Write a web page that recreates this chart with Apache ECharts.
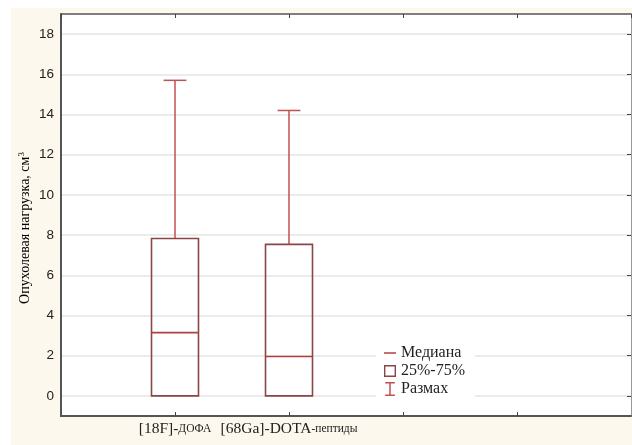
<!DOCTYPE html>
<html>
<head>
<meta charset="utf-8">
<script src="https://cdn.jsdelivr.net/npm/echarts@6/dist/echarts.min.js"></script>
<style>
html,body{margin:0;padding:0;background:#fff;}
#chart{width:632px;height:445px;}
</style>
</head>
<body>
<div id="chart"></div>
<script>
// ---- data ----
var categories = ['[18F]-ДОФА', '[68Ga]-DOTA-пептиды'];
var categoryPos = [1, 2];
var minValues = [0, 0];
var q1Values = [0, 0];
var medianValues = [3.15, 1.96];
var q3Values = [7.83, 7.54];
var maxValues = [15.7, 14.2];
var yTicks = [0, 2, 4, 6, 8, 10, 12, 14, 16, 18];
var legendNames = ['Медиана', '25%-75%', 'Размах'];
var yTitle = 'Опухолевая нагрузка, см';

var boxColor = '#8a4646';
var whiskerColor = '#c24f4f';
var medianColor = '#b43e3e';

var data = categories.map(function (c, i) {
  return [categoryPos[i], minValues[i], q1Values[i], medianValues[i], q3Values[i], maxValues[i]];
});

var richLabel = {
  a: {fontFamily: 'Liberation Serif', fontSize: 15.5, color: '#222'},
  b: {fontFamily: 'Liberation Serif', fontSize: 11.5, color: '#222'}
};
function xLabel(v) {
  var i = categoryPos.indexOf(v);
  if (i < 0) return '';
  if (i === 0) return '{a|[18F]-}{b|ДОФА}';
  return '{a|[68Ga]-DOTA}{b|-пептиды}';
}

function renderItem(params, api) {
  var x = api.value(0);
  var vMin = api.value(1), vQ1 = api.value(2), vMed = api.value(3), vQ3 = api.value(4), vMax = api.value(5);
  var unit = api.size([1, 0])[0];
  var hw = unit * 0.206;
  var cw = unit * 0.1;
  var pMin = api.coord([x, vMin]);
  var pQ1 = api.coord([x, vQ1]);
  var pMed = api.coord([x, vMed]);
  var pQ3 = api.coord([x, vQ3]);
  var pMax = api.coord([x, vMax]);
  var cx = pMed[0];
  var children = [];
  children.push({type: 'line', shape: {x1: cx, y1: pQ3[1], x2: cx, y2: pMax[1]}, style: {stroke: whiskerColor, lineWidth: 1.5}});
  children.push({type: 'line', shape: {x1: cx - cw, y1: pMax[1], x2: cx + cw, y2: pMax[1]}, style: {stroke: whiskerColor, lineWidth: 1.5}});
  if (vMin < vQ1) {
    children.push({type: 'line', shape: {x1: cx, y1: pQ1[1], x2: cx, y2: pMin[1]}, style: {stroke: whiskerColor, lineWidth: 1.5}});
    children.push({type: 'line', shape: {x1: cx - cw, y1: pMin[1], x2: cx + cw, y2: pMin[1]}, style: {stroke: whiskerColor, lineWidth: 1.5}});
  }
  children.push({type: 'rect', shape: {x: cx - hw, y: pQ3[1], width: hw * 2, height: pQ1[1] - pQ3[1]}, style: {fill: 'none', stroke: boxColor, lineWidth: 1.6}});
  children.push({type: 'line', shape: {x1: cx - hw, y1: pMed[1], x2: cx + hw, y2: pMed[1]}, style: {stroke: medianColor, lineWidth: 1.6}});
  return {type: 'group', children: children};
}

var chart = echarts.init(document.getElementById('chart'), null, {renderer: 'canvas'});

var option = {
  animation: false,
  backgroundColor: 'transparent',
  graphic: [
    {type: 'rect', z: -10, shape: {x: 11, y: 8, width: 621, height: 437}, style: {fill: '#fdf8ee'}},
    {type: 'text', x: 25, y: 228, rotation: Math.PI / 2, z: 10,
     style: {text: '{a|' + yTitle + '}{s|3}', align: 'center', verticalAlign: 'middle',
       rich: {a: {fontFamily: 'Liberation Serif', fontSize: 14, color: '#222', lineHeight: 16},
              s: {fontFamily: 'Liberation Serif', fontSize: 9, color: '#222', verticalAlign: 'top', lineHeight: 16, padding: [0, 0, 6, 0]}}}}
  ],
  grid: {left: 61, top: 14, right: 1, bottom: 29, show: true, backgroundColor: '#fff', borderWidth: 0},
  legend: {
    orient: 'vertical', left: 376, top: 339,
    backgroundColor: '#fff',
    padding: [6, 10, 7, 8],
    itemWidth: 12, itemHeight: 14, itemGap: 2,
    textStyle: {fontFamily: 'Liberation Serif', fontSize: 16, color: '#222', lineHeight: 16},
    selectedMode: false,
    data: [
      {name: legendNames[0], icon: 'path://M0,0h12v1.5H0z', itemStyle: {color: medianColor}},
      {name: legendNames[1], icon: 'path://M0,0h12v12H0z M1.4,1.4v9.2h9.2v-9.2z', itemStyle: {color: boxColor}},
      {name: legendNames[2], icon: 'path://M0,0h9v1.4H0z M3.8,0h1.4v13h-1.4z M0,11.6h9v1.4H0z', itemStyle: {color: whiskerColor}}
    ]
  },
  xAxis: [
    {type: 'value', min: 0, max: 5, interval: 1, position: 'bottom',
     axisLine: {show: true, onZero: false, lineStyle: {color: '#555', width: 2}},
     axisTick: {show: true, inside: true, length: 4, lineStyle: {color: '#444'}},
     axisLabel: {show: true, margin: 5, formatter: xLabel, rich: richLabel, showMinLabel: false, showMaxLabel: false},
     splitLine: {show: false}},
    {type: 'value', min: 0, max: 5, interval: 1, position: 'top',
     axisLine: {show: true, onZero: false, lineStyle: {color: '#555', width: 1.5}},
     axisTick: {show: true, inside: true, length: 4, lineStyle: {color: '#444'}},
     axisLabel: {show: false}, splitLine: {show: false}}
  ],
  yAxis: [
    {type: 'value', min: -1, max: 19, interval: 1, position: 'left',
      axisLine: {show: true, onZero: false, lineStyle: {color: '#555', width: 2}},
      axisTick: {show: false, customValues: yTicks},
      axisLabel: {show: true, customValues: yTicks, margin: 7, fontFamily: 'Liberation Sans', fontSize: 13.5, color: '#222'},
      splitLine: {show: true, lineStyle: {color: '#e4e4e4', width: 1.5}}
    },
    {type: 'value', min: -1, max: 19, interval: 1, position: 'right',
      axisLine: {show: true, onZero: false, lineStyle: {color: '#999', width: 1}},
      axisTick: {show: true, inside: true, length: 4, customValues: yTicks, lineStyle: {color: '#444'}},
      axisLabel: {show: false}, splitLine: {show: false}
    }
  ],
  series: [
    {name: legendNames[1], type: 'custom', renderItem: renderItem, xAxisIndex: 0, yAxisIndex: 0,
     encode: {x: 0, y: [1, 2, 3, 4, 5]}, data: data, z: 5},
    {name: legendNames[0], type: 'line', data: [], itemStyle: {color: medianColor}},
    {name: legendNames[2], type: 'line', data: [], itemStyle: {color: whiskerColor}}
  ]
};
chart.setOption(option);
</script>
</body>
</html>
